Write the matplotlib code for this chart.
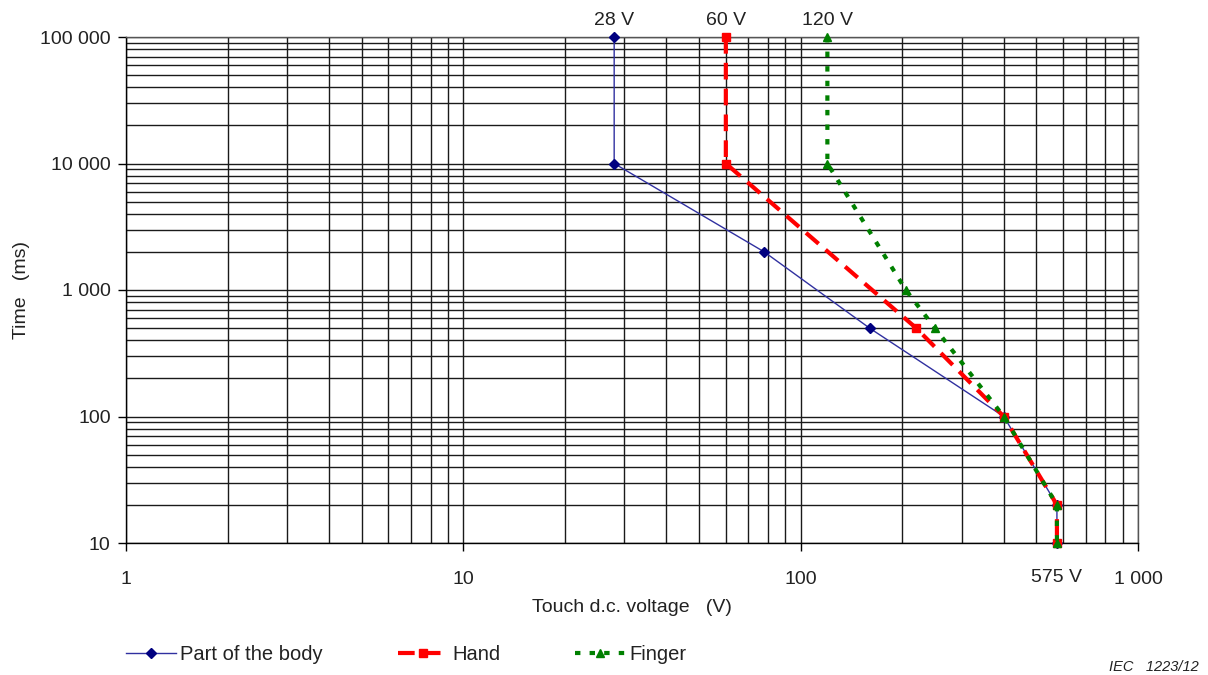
import matplotlib.pyplot as plt
from matplotlib.ticker import FixedLocator, LogLocator, NullFormatter

plt.rcParams['font.family'] = ['Liberation Sans', 'DejaVu Sans']

# touch d.c. voltage (V) vs time (ms)
bodyvolts = [28, 28, 78, 160, 400, 575, 575]
bodytimes = [100000, 10000, 2000, 500, 100, 20, 10]

handvolts = [60, 60, 220, 400, 575, 575]
handtimes = [100000, 10000, 500, 100, 20, 10]

fingervolts = [120, 120, 205, 250, 400, 575, 575]
fingertimes = [100000, 10000, 1000, 500, 100, 20, 10]

xticks = [1, 10, 100, 1000]
xticklabels = ['1', '10', '100', '1 000']
yticks = [10, 100, 1000, 10000, 100000]
yticklabels = ['10', '100', '1 000', '10 000', '100 000']
toplabels = {28: '28 V', 60: '60 V', 120: '120 V'}

fig = plt.figure(figsize=(12.08, 6.75), dpi=100)
ax = fig.add_axes([126 / 1208, 1 - 543 / 675, (1138 - 126) / 1208, (543 - 37) / 675])
ax.set_xscale('log')
ax.set_yscale('log')
ax.set_xlim(1, 1000)
ax.set_ylim(10, 100000)

ax.plot(bodyvolts, bodytimes, color='#3030a0', lw=1, marker='D', ms=5,
        mfc='#000080', mec='#000080', label='Part of the body', zorder=3,
        clip_on=False)
ax.plot(handvolts, handtimes, color='#ff0000', lw=3, dashes=(4, 2.2),
        marker='s', ms=6, label='Hand', zorder=4, clip_on=False)
ax.plot(fingervolts, fingertimes, color='#008000', lw=3, dashes=(1.3, 2.2),
        marker='^', ms=6, label='Finger', zorder=5, clip_on=False)

ax.xaxis.set_major_locator(FixedLocator(xticks))
ax.set_xticklabels(xticklabels)
ax.yaxis.set_major_locator(FixedLocator(yticks))
ax.set_yticklabels(yticklabels)
ax.xaxis.set_minor_locator(LogLocator(base=10, subs=range(2, 10)))
ax.yaxis.set_minor_locator(LogLocator(base=10, subs=range(2, 10)))
ax.xaxis.set_minor_formatter(NullFormatter())
ax.yaxis.set_minor_formatter(NullFormatter())

ax.grid(True, which='both', color='#1a1a1a', lw=1.0)
ax.tick_params(which='major', direction='out', length=6, width=1,
               labelsize=14, colors='black', labelcolor='#222222')
ax.tick_params(axis='x', pad=14)
ax.tick_params(axis='y', pad=5)
ax.tick_params(which='minor', length=0)
for side in ['left', 'bottom']:
    ax.spines[side].set_color('black')
    ax.spines[side].set_linewidth(1)
for side in ['top', 'right']:
    ax.spines[side].set_color('#555555')
    ax.spines[side].set_linewidth(1)

ax.set_xlabel('Touch d.c. voltage   (V)', fontsize=14, color='#222222', labelpad=8)
ax.set_ylabel('Time   (ms)', fontsize=14, color='#222222', labelpad=7)

for volt, txt in toplabels.items():
    ax.annotate(txt, xy=(volt, 1), xycoords=('data', 'axes fraction'),
                xytext=(0, 6), textcoords='offset points',
                ha='center', va='bottom', fontsize=14, color='#222222')
ax.annotate('575 V', xy=(575, 0), xycoords=('data', 'axes fraction'),
            xytext=(0, -19), textcoords='offset points',
            ha='center', va='top', fontsize=14, color='#222222')

fig.legend(loc='center left', bbox_to_anchor=(108 / 1208, 1 - 655 / 675),
           ncol=3, frameon=False, fontsize=14.5, handlelength=2.5,
           handletextpad=0.2, columnspacing=3.7, numpoints=1,
           labelcolor='#222222')

fig.text(0.992, 0.002, 'IEC   1223/12', ha='right', va='bottom',
         fontsize=10.5, style='italic', color='#222222')

fig.savefig('out.png', dpi=100)
